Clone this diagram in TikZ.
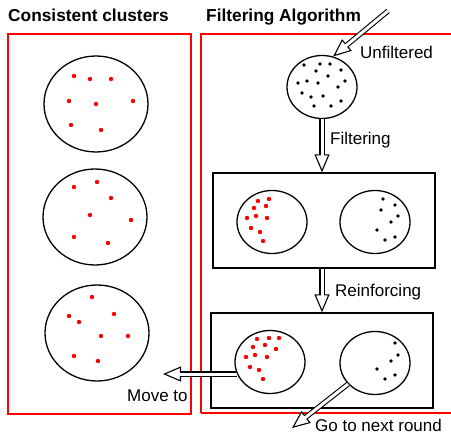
\documentclass[tikz,border=0pt]{standalone}
\usepackage{fontspec}
\setmainfont{Liberation Sans}
\usetikzlibrary{arrows.meta,shapes.geometric}
\definecolor{framered}{HTML}{FF0000}
\definecolor{dotred}{HTML}{FF0000}
\tikzset{
  frame/.style={draw=framered, line width=1.3pt},
  cluster/.style={ellipse, draw=black, line width=1.3pt, inner sep=0pt},
  bigcluster/.style={cluster, minimum width=104pt, minimum height=96pt},
  smallcluster/.style={cluster, minimum width=70pt, minimum height=63pt},
  stagebox/.style={rectangle, draw=black, line width=1.3pt, minimum width=222pt, minimum height=95pt},
  flow/.style={line width=5.2pt, draw=black,
               -{Triangle[open, fill=white, length=18pt, width=15pt, line width=1.1pt]},
               postaction={draw=white, line width=3pt, -, shorten >=16pt}},
  label/.style={anchor=base west, inner sep=0pt, font=\fontsize{17}{20}\selectfont},
  title/.style={anchor=base west, inner sep=0pt, font=\fontsize{17.3}{20}\selectfont\bfseries}
}
\newcommand{\reddots}[1]{\foreach \p in {#1} \fill[dotred] \p circle (2.2pt);}
\newcommand{\blackdots}[1]{\foreach \p in {#1} \fill[black] \p circle (1.9pt);}
\begin{document}
\begin{tikzpicture}[x=1pt, y=-1pt]
  \useasboundingbox (0,0) rectangle (451,435);

  % titles and frames
  \node[title] (lefttitle) at (8,22) {Consistent clusters};
  \node[title] (righttitle) at (206,22) {Filtering Algorithm};
  \draw[frame] (8,34) rectangle (191,414);
  \draw[frame] (201,413) -- (201,34) -- (460,34);
  \draw[frame] (201,413) -- (460,413);

  % consistent clusters
  \node[bigcluster] (keep1) at (96,104) {};
  \node[bigcluster] (keep2) at (95,217) {};
  \node[bigcluster] (keep3) at (97,333) {};
  \reddots{(74,76),(90,79),(111,79),(69,101),(96,104),(133,101),(71,125),(101,130)}
  \reddots{(74,187),(97,182),(111,198),(90,215),(131,220),(74,237),(108,243)}
  \reddots{(92,297),(69,316),(79,322),(114,314),(101,336),(128,336),(74,356),(98,361)}

  % filtering algorithm
  \node[smallcluster] (unfilt) at (322,87) {};
  \blackdots{(304,65),(320,64),(330,64),(316,71),(328,76),(341,70),(307,81),(318,83),(298,83),
             (345,81),(338,87),(302,93),(311,97),(323,96),(341,101),(314,106),(331,106)}

  \node[stagebox] (filtbox) at (324,220.5) {};
  \node[smallcluster] (filtgood) at (272,222) {};
  \node[smallcluster] (filtbad) at (375,222) {};
  \reddots{(258,201),(269,199),(254,208),(266,206),(247,218),(256,216),(267,218),(251,228),(260,232),(263,241)}
  \blackdots{(383,199),(395,205),(381,210),(398,216),(391,222),(377,230),(395,237),(385,240)}

  \node[stagebox] (reinbox) at (322,360.5) {};
  \node[smallcluster] (reingood) at (270,362) {};
  \node[smallcluster] (reinbad) at (375,363) {};
  \reddots{(257,339),(269,338),(279,338),(253,347),(265,345),(276,349),(246,357),(255,355),(267,357),(250,367),(259,370),(263,379)}
  \blackdots{(395,343),(398,355),(391,361),(377,369),(395,375),(385,379)}

  % connectors
  \coordinate (instart) at (388,11);
  \coordinate (moveend) at (163,373);
  \coordinate (nextend) at (292,428);
  \draw[flow] (instart) -- (unfilt.70);
  \draw[flow] (unfilt.south) -- (unfilt.south |- filtbox.north);
  \draw[flow] (filtbox.south -| unfilt.south) -- (reinbox.north -| unfilt.south);
  \draw[flow] (reingood.200) -- (reingood.200 -| moveend);
  \draw[flow] (reinbad) -- (nextend);

  % labels
  \node[label] (unfilttext) at (360,59) {Unfiltered};
  \node[label] (filttext) at (330,145) {Filtering};
  \node[label] (reintext) at (335,297) {Reinforcing};
  \node[label] (movetext) at (127,402) {Move to};
  \node[label] (nexttext) at (315,432) {Go to next round};
\end{tikzpicture}
\end{document}
